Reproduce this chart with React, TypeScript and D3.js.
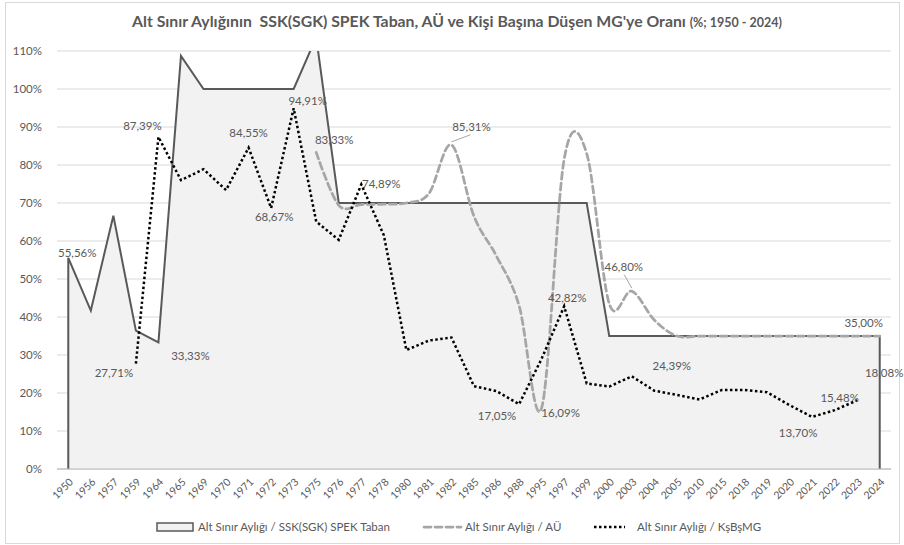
import React from "react";
import * as d3 from "d3";

// ---- Data ----
const categories: string[] = [
  "1950","1956","1957","1959","1964","1965","1969","1970","1971","1972","1973",
  "1975","1976","1977","1978","1980","1981","1982","1985","1986","1988","1995",
  "1997","1999","2000","2003","2004","2005","2010","2015","2018","2019","2020",
  "2021","2022","2023","2024",
];

// Alt Sınır Aylığı / SSK(SGK) SPEK Taban (area)
const spekTaban: (number | null)[] = [
  55.56, 41.7, 66.67, 36.4, 33.33, 108.7, 100, 100, 100, 100, 100,
  113.6, 70, 70, 70, 70, 70, 70, 70, 70, 70, 70,
  70, 70, 35, 35, 35, 35, 35, 35, 35, 35, 35,
  35, 35, 35, 35,
];

// Alt Sınır Aylığı / AÜ (dashed, smoothed)
const auRatio: (number | null)[] = [
  null, null, null, null, null, null, null, null, null, null, null,
  83.33, 69.4, 69.6, 69.7, 70.0, 72.5, 85.31, 66.5, 56.0, 43.0, 16.09,
  81.5, 83.0, 43.5, 46.8, 39.2, 35.0, 35, 35, 35, 35, 35,
  35, 35, 35, 35,
];

// Alt Sınır Aylığı / KşBşMG (dotted)
const mgRatio: (number | null)[] = [
  null, null, null, 27.71, 87.39, 76.0, 78.9, 73.4, 84.55, 68.67, 94.91,
  65.1, 60.3, 74.89, 61.5, 31.3, 33.8, 34.6, 21.8, 20.5, 17.05, 29.0,
  42.82, 22.5, 21.7, 24.39, 20.6, 19.5, 18.3, 20.8, 20.8, 20.2, 16.8,
  13.7, 15.48, 18.08, null,
];

const yTicks: number[] = [0, 10, 20, 30, 40, 50, 60, 70, 80, 90, 100, 110];

const seriesNames: string[] = [
  "Alt Sınır Aylığı / SSK(SGK) SPEK Taban",
  "Alt Sınır Aylığı / AÜ",
  "Alt Sınır Aylığı / KşBşMG",
];

// labelled points: [series index, category]
const labelledPoints: [number, string][] = [
  [0, "1950"], [2, "1959"], [0, "1964"], [2, "1964"], [2, "1971"], [2, "1972"],
  [2, "1973"], [1, "1975"], [2, "1977"], [1, "1982"], [2, "1988"], [1, "1995"],
  [2, "1997"], [1, "2003"], [2, "2003"], [1, "2023"], [2, "2023"], [2, "2022"],
  [2, "2021"],
];

// ---- Layout (label offsets from point, px; leader line flag) ----
const labelOffsets: [number, number, boolean][] = [
  [9, -5, false], [-22, 9, false], [32, 14, false], [-16, -11, false], [0, -15, false],
  [3, 9, false], [14, -7, false], [18, -12, false], [20, 0, false], [20, -18, true],
  [-22, 12, false], [19, 5, false], [3, -8, false], [-8, -24.5, true], [40, -10, false],
  [6.5, -13, false], [27, -27, false], [5, -12, false], [-14, 16, false],
];

const W = 904;
const H = 545;
const plotL = 57;
const plotR = 891;
const plotT = 51;
const plotB = 469;
const FONT = "Lato, 'Noto Sans', sans-serif";
const TXT = "#595959";

const fmt = (v: number) => v.toFixed(2).replace(".", ",") + "%";

export default function App() {
  const x = d3.scaleBand<string>().domain(categories).range([plotL, plotR]).padding(0);
  const cx = (c: string) => (x(c) as number) + x.bandwidth() / 2;
  const y = d3.scaleLinear().domain([0, 110]).range([plotB, plotT]);

  const seriesArr = [spekTaban, auRatio, mgRatio];

  const spekVals = spekTaban as number[];
  const areaGen = d3
    .area<number>()
    .x((_, i) => cx(categories[i]))
    .y0(y(0))
    .y1((d) => y(d));
  const areaPath = areaGen(spekVals) || "";
  const outlinePts: [number, number][] = [
    [cx(categories[0]), y(0)],
    ...spekVals.map((v, i) => [cx(categories[i]), y(v)] as [number, number]),
    [cx(categories[categories.length - 1]), y(0)],
  ];
  const outline = d3.line()(outlinePts) || "";

  const defined = (d: number | null) => d !== null;
  const dashedLine = d3
    .line<number | null>()
    .defined(defined)
    .x((_, i) => cx(categories[i]))
    .y((d) => y(d as number))
    .curve(d3.curveCatmullRom.alpha(0));
  const dottedLine = d3
    .line<number | null>()
    .defined(defined)
    .x((_, i) => cx(categories[i]))
    .y((d) => y(d as number));

  const legendY = 527;

  return (
    <svg width={W} height={H} style={{ position: "absolute", left: 0, top: 0, background: "#fff" }}>
      <defs>
        <clipPath id="plotClip">
          <rect x={plotL} y={plotT} width={plotR - plotL} height={plotB - plotT + 2} />
        </clipPath>
      </defs>
      <rect x={5.5} y={2.5} width={W - 10} height={H - 4} fill="#fff" stroke="#d9d9d9" />
      {/* Title */}
      <text x={457} y={27} textAnchor="middle" fontFamily={FONT} fontWeight="bold" fontSize={15.8} fill={TXT}>
        Alt Sınır Aylığının{"\u00a0\u00a0"}SSK(SGK) SPEK Taban, AÜ ve Kişi Başına Düşen MG'ye Oranı{" "}
        <tspan fontSize={12.5}>(%; 1950 - 2024)</tspan>
      </text>
      {/* Grid */}
      {yTicks.map((t) => (
        <g key={t}>
          <line x1={plotL} x2={plotR} y1={y(t)} y2={y(t)} stroke={t === 0 ? "#bfbfbf" : "#d9d9d9"} strokeWidth={1} />
          <text x={42} y={y(t)} dy="0.35em" textAnchor="end" fontFamily={FONT} fontSize={11.5} fill={TXT}>
            {t}%
          </text>
        </g>
      ))}
      {/* Series */}
      <g clipPath="url(#plotClip)">
        <path d={areaPath} fill="#f2f2f2" />
        <path d={outline} fill="none" stroke="#595959" strokeWidth={2} strokeLinejoin="miter" />
        <path d={dashedLine(auRatio) || ""} fill="none" stroke="#a6a6a6" strokeWidth={2.75} strokeDasharray="7 4" strokeLinecap="round" />
        <path d={dottedLine(mgRatio) || ""} fill="none" stroke="#000" strokeWidth={2.5} strokeDasharray="2.5 2.5" />
      </g>
      <line x1={plotL} x2={plotR} y1={y(0)} y2={y(0)} stroke="#bfbfbf" strokeWidth={1} />
      {/* X labels */}
      {categories.map((c) => (
        <text
          key={c}
          transform={`translate(${cx(c) + 3},${480}) rotate(-45)`}
          textAnchor="end"
          dy="0.35em"
          fontFamily={FONT}
          fontSize={10.5}
          fill={TXT}
        >
          {c}
        </text>
      ))}
      {/* Data labels */}
      {labelledPoints.map(([s, c], k) => {
        const v = seriesArr[s][categories.indexOf(c)] as number;
        const px = cx(c);
        const py = y(v);
        const [dx, dy, leader] = labelOffsets[k];
        return (
          <g key={k}>
            {leader && (
              <line x1={px} y1={py - 3} x2={px + dx * 0.95} y2={py + dy + 8} stroke="#a6a6a6" strokeWidth={1} />
            )}
            <text x={px + dx} y={py + dy} dy="0.35em" textAnchor="middle" fontFamily={FONT} fontSize={11.5} fill={TXT}>
              {fmt(v)}
            </text>
          </g>
        );
      })}
      {/* Legend */}
      <rect x={157} y={legendY - 4} width={36} height={8} fill="#f2f2f2" stroke="#595959" strokeWidth={1.5} />
      <text x={198} y={legendY} dy="0.35em" fontFamily={FONT} fontSize={11.5} fill={TXT}>{seriesNames[0]}</text>
      <line x1={424} x2={461} y1={legendY} y2={legendY} stroke="#a6a6a6" strokeWidth={2.75} strokeDasharray="7 4" strokeLinecap="round" />
      <text x={465} y={legendY} dy="0.35em" fontFamily={FONT} fontSize={11.5} fill={TXT}>{seriesNames[1]}</text>
      <line x1={594} x2={625} y1={legendY} y2={legendY} stroke="#000" strokeWidth={2.5} strokeDasharray="2.5 2.5" />
      <text x={637} y={legendY} dy="0.35em" fontFamily={FONT} fontSize={11.5} fill={TXT}>{seriesNames[2]}</text>
    </svg>
  );
}
